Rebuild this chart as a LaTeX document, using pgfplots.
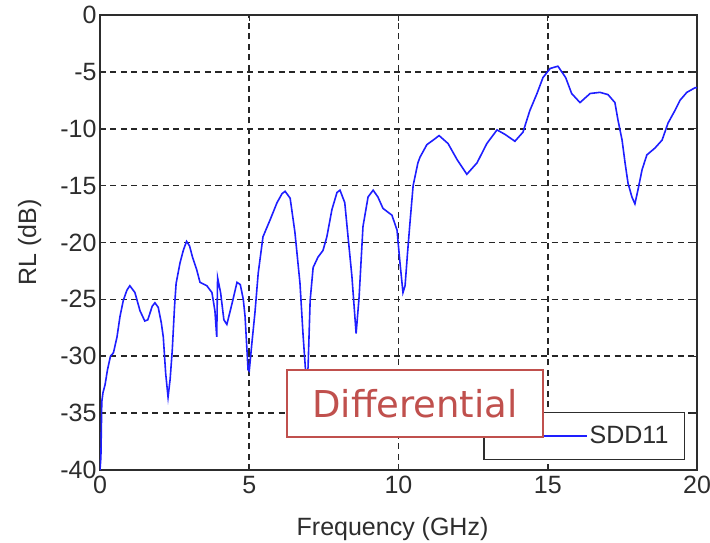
\documentclass[border=0pt]{standalone}
\usepackage{pgfplots}
\pgfplotsset{compat=1.18}
\usepackage{fontspec}
\setmainfont{Liberation Sans}
\newfontfamily\dv{DejaVu Sans}
\usetikzlibrary{calc}
\definecolor{diffred}{RGB}{192,80,77}
\definecolor{axgray}{RGB}{45,45,45}
\definecolor{curveblue}{RGB}{30,30,255}
\begin{document}
\begin{tikzpicture}
\useasboundingbox (-100bp,-73bp) rectangle (610bp,470bp);
\begin{axis}[
  name=ax,
  scale only axis,
  width=597bp, height=455bp,
  xmin=0, xmax=20, ymin=-40, ymax=0,
  xtick={0,5,10,15,20},
  ytick={-40,-35,-30,-25,-20,-15,-10,-5,0},
  /pgf/number format/assume math mode=true,
  grid=major,
  major grid style={black!85, line width=1.7bp, dash pattern=on 6bp off 4.5bp},
  axis line style={axgray, line width=1.4bp},
  tick style={axgray, line width=1.3bp},
  major tick length=6bp,
  tick align=inside,
  tick label style={font=\fontsize{25bp}{30bp}\selectfont, text=axgray},
  xticklabel style={yshift=-3bp},
  xlabel={Frequency (GHz)},
  ylabel={RL (dB)},
  every axis x label/.style={at={(axis description cs:0.49,-0.143)}, anchor=base,
    font=\fontsize{25bp}{30bp}\selectfont, text=axgray},
  every axis y label/.style={at={(axis description cs:-0.118,0.5)}, anchor=center, rotate=90,
    font=\fontsize{25bp}{30bp}\selectfont, text=axgray},
  legend style={at={(axis description cs:0.98,0.022)}, anchor=south east,
    draw=axgray, line width=1.3bp, fill=white,
    font=\fontsize{25bp}{30bp}\selectfont, text=axgray,
    inner xsep=14bp, inner ysep=12bp},
  legend image code/.code={\draw[#1] (0bp,0bp) -- (88bp,0bp);},
  legend cell align=left,
]
\addplot[curveblue, line width=1.6bp] coordinates {
(0,-40) (0.03,-38.9) (0.06,-34) (0.1,-33.2) (0.17,-32.5) (0.25,-31.2)
(0.35,-30) (0.45,-29.7) (0.57,-28.3) (0.67,-26.5) (0.78,-25.1) (0.9,-24.2)
(1.0,-23.8) (1.17,-24.4) (1.34,-26) (1.5,-26.9) (1.6,-26.8) (1.75,-25.6)
(1.84,-25.3) (1.95,-25.7) (2.05,-27) (2.12,-28.3) (2.2,-31.5) (2.28,-33.6)
(2.35,-32) (2.42,-29.5) (2.5,-25.5) (2.55,-23.6) (2.68,-21.8) (2.79,-20.7)
(2.9,-19.9) (3.0,-20.3) (3.1,-21.3) (3.24,-22.4) (3.35,-23.5) (3.58,-23.8)
(3.75,-24.4) (3.85,-26) (3.91,-28.3) (3.94,-23.1) (4.04,-24.4) (4.15,-26.8)
(4.25,-27.2) (4.42,-25.4) (4.59,-23.5) (4.7,-23.7) (4.8,-25) (4.86,-26.5)
(4.96,-31.2) (5.0,-31.3) (5.09,-28.8) (5.19,-26.2) (5.3,-22.7) (5.46,-19.5)
(5.7,-18) (5.93,-16.5) (6.1,-15.7) (6.2,-15.5) (6.37,-16.1) (6.53,-19.1)
(6.7,-23.6) (6.8,-28) (6.9,-31.8) (6.97,-31) (7.04,-25.1) (7.14,-22.2)
(7.3,-21.3) (7.47,-20.7) (7.6,-19.5) (7.77,-17.1) (7.94,-15.6) (8.04,-15.4)
(8.2,-16.5) (8.31,-19.5) (8.44,-23) (8.58,-28) (8.68,-24.8) (8.81,-18.6)
(8.98,-16) (9.15,-15.4) (9.31,-16) (9.48,-17) (9.78,-17.6) (9.95,-18.9)
(10.05,-21.8) (10.15,-24.4) (10.22,-23.8) (10.3,-21) (10.38,-18.4) (10.49,-15)
(10.65,-13) (10.72,-12.5) (10.95,-11.4) (11.16,-11.0) (11.36,-10.6) (11.66,-11.3)
(11.96,-12.7) (12.29,-14.0) (12.63,-13.0) (12.96,-11.3) (13.3,-10.1) (13.57,-10.5)
(13.9,-11.1) (14.17,-10.3) (14.4,-8.4) (14.64,-6.9) (14.84,-5.5) (15.08,-4.7)
(15.34,-4.5) (15.6,-5.5) (15.8,-6.9) (16.08,-7.7) (16.42,-6.9) (16.75,-6.8)
(17.02,-7.0) (17.25,-7.7) (17.35,-9.2) (17.49,-11.0) (17.59,-13.0) (17.69,-14.8)
(17.82,-16.0) (17.92,-16.6) (18.02,-15.4) (18.16,-13.6) (18.32,-12.3) (18.59,-11.7)
(18.83,-11.0) (19.03,-9.5) (19.26,-8.4) (19.43,-7.5) (19.66,-6.8) (19.93,-6.4)
(20,-6.4)
};
\addlegendentry{SDD11}
\end{axis}
\node[draw=diffred, line width=1.5bp, fill=white, text=diffred,
  minimum width=256bp, minimum height=67bp, inner sep=0pt,
  font=\dv\fontsize{37bp}{40bp}\selectfont]
  at ($(ax.south west)+(315bp,66.5bp)$) {Differential};
\end{tikzpicture}
\end{document}
